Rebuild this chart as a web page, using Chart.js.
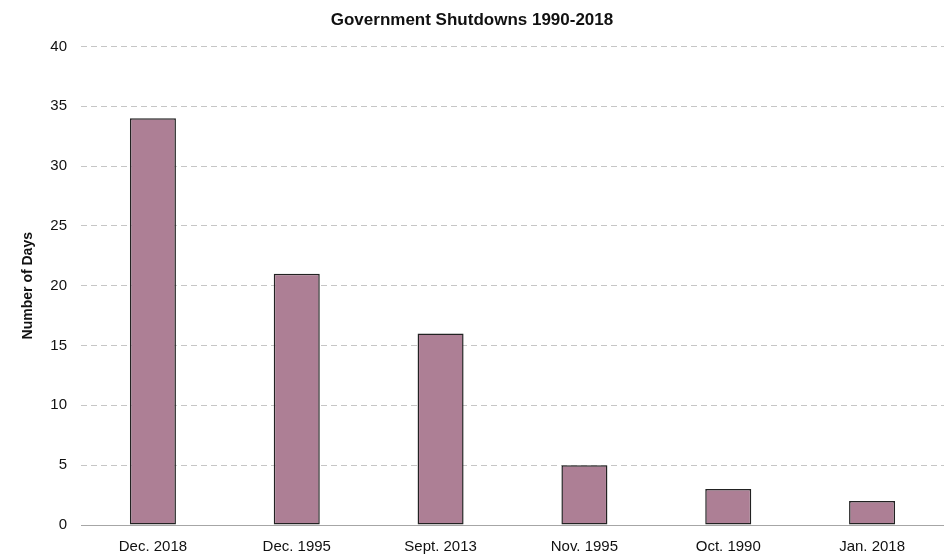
<!DOCTYPE html>
<html>
<head>
<meta charset="utf-8">
<title>Government Shutdowns 1990-2018</title>
<script src="https://cdn.jsdelivr.net/npm/chart.js@4.4.1/dist/chart.umd.min.js"></script>
<style>
  html, body { margin: 0; padding: 0; background: #fff; }
  #wrap { width: 944px; height: 556px; }
</style>
</head>
<body>
<div id="wrap"><canvas id="shutdownChart"></canvas></div>
<script>
// Longest shutdowns, length in days
const shutdowns = ['Dec. 2018', 'Dec. 1995', 'Sept. 2013', 'Nov. 1995', 'Oct. 1990', 'Jan. 2018'];
const days = [34, 21, 16, 5, 3, 2];
const yTicks = [0, 5, 10, 15, 20, 25, 30, 35, 40];

const fontFamily = "'Liberation Sans Narrow', 'Arial Narrow', 'Liberation Sans', Arial, sans-serif";

const ctx = document.getElementById('shutdownChart').getContext('2d');
const shutdownChart = new Chart(ctx, {
    type: 'bar',
    data: {
        labels: shutdowns,
        datasets: [{
            label: 'Number of Days',
            data: days,
            backgroundColor: '#ad7f95',
            borderColor: '#222',
            borderWidth: 1.5,
            borderSkipped: false,
            barPercentage: 0.32,
            categoryPercentage: 1
        }]
    },
    options: {
        responsive: true,
        maintainAspectRatio: false,
        animation: false,
        layout: { padding: { top: 4, right: 0, bottom: -13, left: 0 } },
        plugins: {
            legend: { display: false },
            tooltip: { enabled: false },
            title: {
                display: true,
                text: 'Government Shutdowns 1990-2018',
                color: '#111',
                font: { family: fontFamily, size: 17, weight: 'bold' },
                padding: { top: 6, bottom: 16 }
            }
        },
        scales: {
            x: {
                grid: { display: false, drawTicks: false },
                border: { display: true, color: '#a6a6a6', width: 1 },
                ticks: {
                    color: '#111',
                    font: { family: fontFamily, size: 15 },
                    padding: 13,
                    maxRotation: 0
                }
            },
            y: {
                min: 0,
                max: 40,
                afterBuildTicks: function (scale) {
                    scale.ticks = yTicks.map(v => ({ value: v }));
                },
                afterFit: function (scale) {
                    scale.width = 81;
                },
                grid: {
                    drawTicks: false,
                    color: c => c.tick && c.tick.value === 0 ? 'rgba(0,0,0,0)' : '#c6c6c6',
                    lineWidth: 1
                },
                border: { display: false, dash: [6, 4] },
                ticks: {
                    color: '#111',
                    font: { family: fontFamily, size: 15 },
                    padding: 14
                },
                title: {
                    display: true,
                    text: 'Number of Days',
                    color: '#111',
                    font: { family: fontFamily, size: 14, weight: 'bold' },
                    padding: { top: 20, bottom: 0 }
                }
            }
        }
    }
});
</script>
</body>
</html>
